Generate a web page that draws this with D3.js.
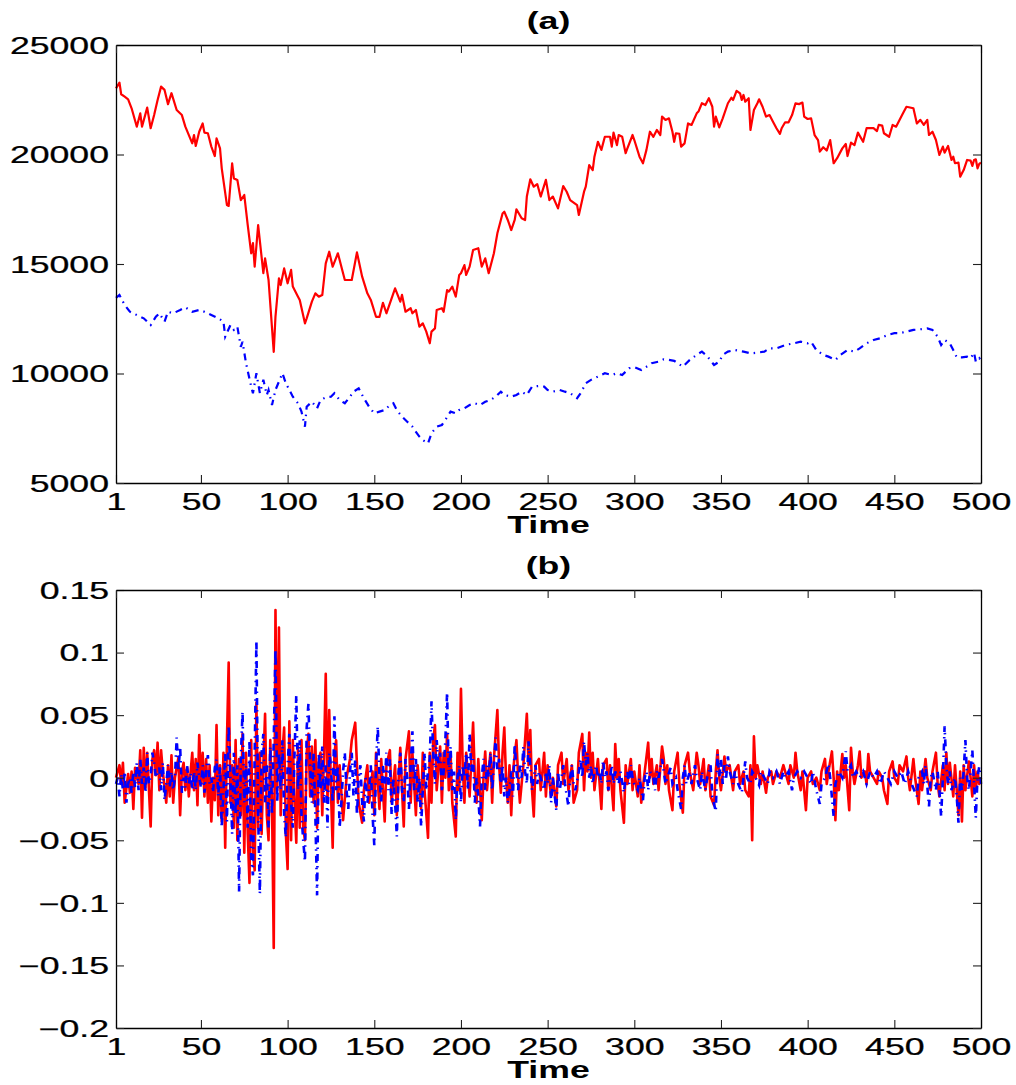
<!DOCTYPE html>
<html>
<head>
<meta charset="utf-8">
<script src="https://cdn.jsdelivr.net/npm/d3@7"></script>
<style>
  body { margin: 0; background: #fff; }
  svg { display: block; }
</style>
</head>
<body>
<div class="my_div"></div>
<script>
// Ticks
var timeTicks = [1, 50, 100, 150, 200, 250, 300, 350, 400, 450, 500];
var priceTicks = [5000, 10000, 15000, 20000, 25000];
var returnTicks = [-0.2, -0.15, -0.1, -0.05, 0, 0.05, 0.1, 0.15];

// Panel (a): prices, [time, value]
var priceRed = [[1,23020],[3,23280],[4,22750],[6,22640],[8,22520],[10,22110],[13,21270],[15,21880],[16,21270],[19,22140],[21,21200],[23,21800],[25,22490],[27,23100],[29,22950],[31,22300],[33,22800],[36,22030],[39,21800],[41,21270],[45,20510],[46,20890],[47,20390],[49,21040],[51,21420],[52,21000],[54,20970],[56,20360],[58,19930],[59,20740],[61,20280],[62,19370],[65,17690],[66,17650],[68,19600],[69,18910],[71,18840],[73,17920],[75,18150],[77,16780],[79,15490],[80,15950],[81,14880],[83,16780],[86,14580],[87,15260],[89,14270],[92,10990],[93,12600],[95,14350],[96,14040],[98,14800],[100,14120],[102,14730],[103,13970],[106,13510],[107,13360],[110,12290],[111,12520],[114,13280],[116,13660],[118,13510],[120,13580],[122,15030],[124,15560],[126,14880],[129,15490],[133,14270],[137,14270],[140,15530],[143,14420],[146,13660],[148,13360],[151,12590],[153,12590],[155,13230],[157,12750],[162,13890],[165,13280],[166,13590],[168,12820],[171,12980],[172,12750],[174,12900],[176,12140],[178,12290],[180,11910],[182,11380],[183,11910],[185,12060],[186,12900],[189,12980],[190,12820],[192,13810],[193,13740],[195,13970],[197,13510],[199,14500],[200,14580],[202,14950],[203,14500],[205,14880],[207,15640],[210,15720],[212,14880],[214,15260],[216,14580],[219,15490],[221,16400],[224,17310],[225,17390],[227,17010],[229,16550],[231,17010],[232,17500],[235,17090],[237,17010],[238,18080],[240,18870],[242,18530],[244,18650],[246,18080],[249,18840],[251,17920],[253,18080],[256,17540],[259,18560],[261,18300],[263,17920],[267,17690],[268,17240],[271,18300],[272,18530],[274,19520],[276,19290],[277,19900],[279,20580],[281,20210],[283,20810],[286,20810],[287,20360],[288,21000],[290,20430],[291,20890],[293,20810],[295,20060],[296,20280],[299,20890],[300,20660],[303,19900],[305,19600],[307,20210],[309,21040],[311,20810],[313,21120],[315,20890],[316,21730],[318,21580],[320,21650],[322,21040],[323,20580],[324,20970],[326,20940],[327,20360],[329,20510],[331,21420],[333,21350],[336,21880],[337,21960],[339,22340],[341,22260],[343,22570],[345,22180],[346,21270],[347,21730],[349,21240],[351,21650],[354,22340],[356,22590],[357,22490],[359,22910],[361,22790],[362,22490],[363,22720],[364,22410],[366,22570],[367,21120],[369,22030],[371,22340],[372,22520],[374,22180],[376,21730],[378,21800],[380,21500],[382,21200],[384,20940],[385,21200],[387,21470],[389,21470],[391,21800],[393,22340],[395,22300],[397,22370],[398,21730],[400,21620],[402,21650],[404,20890],[406,20660],[407,20130],[409,20330],[411,20180],[413,20660],[415,19600],[417,19830],[420,20280],[422,20480],[423,19930],[425,20540],[427,20430],[429,21000],[432,20580],[434,21200],[438,21200],[440,21070],[441,21350],[443,21320],[444,20970],[447,20810],[449,21350],[451,21270],[453,21580],[455,21880],[457,22180],[461,22110],[463,21420],[465,21580],[467,21350],[469,21580],[470,20890],[472,21040],[474,20660],[476,19980],[478,20360],[479,20080],[481,20390],[483,19750],[484,19900],[485,19600],[487,19630],[488,18990],[490,19290],[492,19750],[494,19720],[495,19480],[496,19750],[497,19780],[498,19370],[499,19570],[500,19630]];

var priceBlue = [[1,13450],[3,13585],[6,13130],[9,12820],[13,12670],[17,12520],[21,12210],[24,12590],[26,12750],[29,12370],[31,12820],[34,12750],[38,12900],[41,13020],[45,12820],[49,12900],[52,12820],[56,12670],[60,12520],[63,12370],[64,11680],[67,12210],[69,11990],[71,12140],[73,11220],[74,11450],[76,10470],[79,9400],[80,9100],[82,10010],[84,9100],[86,9710],[88,9020],[89,9250],[91,8560],[93,9250],[97,10010],[99,9550],[101,9250],[103,8940],[106,8640],[108,8260],[110,7570],[111,8480],[114,8710],[117,8410],[119,8790],[122,8910],[125,8940],[127,9100],[130,8790],[133,8640],[136,8940],[138,9170],[141,9320],[144,8870],[147,8480],[150,8180],[153,8260],[156,8330],[159,8560],[161,8640],[163,8330],[166,8030],[169,7800],[172,7570],[174,7340],[176,7120],[178,6960],[181,6810],[183,7270],[186,7570],[189,7650],[191,7880],[194,8260],[197,8180],[199,8330],[202,8410],[205,8560],[208,8640],[211,8560],[214,8710],[217,8790],[220,8940],[223,9170],[225,9020],[229,8940],[232,9020],[235,9170],[238,9020],[241,9400],[245,9430],[248,9400],[250,9250],[253,9170],[257,9250],[260,9170],[263,9100],[267,8870],[269,9100],[272,9550],[275,9710],[279,9860],[283,10010],[287,9930],[290,10010],[293,9930],[297,10240],[300,10290],[304,10160],[307,10310],[310,10470],[314,10540],[317,10650],[320,10620],[323,10580],[328,10310],[332,10620],[336,10850],[339,11000],[342,10800],[346,10390],[349,10540],[351,10850],[354,11000],[358,11070],[363,11000],[367,10920],[371,10950],[375,11000],[378,11150],[382,11150],[387,11300],[392,11380],[396,11450],[400,11380],[402,11450],[405,11070],[409,10850],[412,10770],[416,10620],[419,10850],[423,11070],[427,11000],[430,11150],[434,11380],[438,11530],[442,11610],[446,11760],[450,11840],[453,11840],[457,11910],[461,11990],[465,12020],[469,12060],[472,11990],[475,11680],[477,11300],[479,11530],[482,11380],[484,11070],[486,10740],[489,10740],[492,10770],[494,10700],[496,10950],[497,10540],[499,10700],[500,10600]];

// Panel (b): returns, [time, value]
var returnRed = [[1,0],[3,0.01],[4,-0.005],[5,0.012],[6,-0.02],[8,0.003],[9,-0.012],[10,0.005],[11,-0.025],[12,0.008],[14,-0.005],[15,0.022],[16,-0.032],[17,0.024],[18,-0.008],[19,0.02],[21,-0.039],[22,0.015],[23,0.022],[24,0.002],[25,0.028],[26,-0.01],[27,0.022],[28,0.005],[30,-0.02],[31,0.01],[32,-0.015],[33,0.018],[34,-0.02],[35,0.0],[37,0.016],[38,-0.03],[39,0.005],[40,0.012],[41,-0.01],[42,0.008],[43,-0.015],[44,0.004],[45,0.02],[46,-0.01],[47,0.015],[48,-0.022],[49,0.034],[50,-0.005],[51,0.02],[52,-0.015],[53,0.015],[54,-0.02],[55,0.01],[56,-0.035],[57,0.0],[58,-0.018],[59,0.042],[60,-0.03],[61,0.01],[62,-0.035],[63,0.02],[64,-0.056],[65,0.03],[66,0.092],[67,-0.02],[68,0.01],[69,-0.04],[70,0.03],[71,-0.05],[72,0.015],[73,-0.03],[74,0.035],[75,-0.06],[76,0.02],[77,-0.045],[78,-0.084],[79,0.03],[80,-0.06],[81,-0.074],[82,0.06],[83,-0.04],[84,0.02],[85,-0.045],[86,0.01],[87,0.051],[88,-0.03],[89,-0.05],[90,0.03],[91,-0.02],[92,-0.136],[93,0.134],[94,-0.01],[95,0.12],[96,-0.03],[97,0.02],[98,0.04],[99,-0.045],[100,-0.073],[101,0.045],[102,-0.05],[103,0.03],[104,-0.02],[105,-0.052],[106,0.025],[107,-0.04],[108,0.03],[109,-0.04],[110,-0.05],[111,0.02],[112,0.035],[113,-0.015],[114,0.025],[115,-0.02],[116,0.03],[117,-0.04],[118,0.015],[119,0.02],[120,-0.03],[121,0.02],[122,0.083],[123,-0.02],[124,0.054],[125,-0.01],[126,-0.056],[127,0.02],[128,0.03],[129,-0.02],[130,0.01],[132,-0.034],[134,0.0],[136,0.015],[137,0.03],[139,0.044],[140,0.01],[141,-0.02],[143,-0.036],[144,-0.01],[146,0.01],[147,-0.02],[149,0.005],[150,-0.03],[151,0.02],[153,-0.025],[154,0.015],[156,-0.035],[157,0.01],[159,0.022],[160,-0.02],[162,0.01],[163,-0.03],[165,0.024],[166,-0.01],[167,-0.039],[168,0.015],[170,0.037],[171,-0.02],[172,0.02],[174,-0.03],[175,0.01],[177,-0.025],[178,0.02],[179,-0.01],[181,-0.048],[182,0.02],[183,-0.02],[184,0.03],[185,0.042],[186,-0.01],[188,0.025],[189,-0.02],[190,0.02],[191,0.0],[192,0.035],[193,-0.01],[194,0.02],[195,-0.02],[197,-0.047],[198,0.02],[199,-0.01],[200,0.071],[201,0.01],[202,-0.02],[203,0.02],[205,-0.015],[207,0.044],[208,0.0],[209,-0.02],[210,0.015],[212,-0.034],[213,0.0],[214,0.021],[215,-0.01],[217,0.02],[218,-0.02],[219,0.015],[221,0.054],[222,0.01],[223,-0.012],[224,0.02],[225,0.04],[226,0.0],[227,-0.02],[228,0.01],[229,-0.03],[230,0.005],[232,0.03],[233,0.0],[234,-0.02],[236,0.01],[238,0.051],[239,0.01],[240,0.038],[241,-0.01],[242,-0.031],[243,0.01],[245,0.015],[246,-0.01],[248,0.02],[249,-0.015],[250,0.01],[252,-0.015],[253,0.0],[255,-0.023],[256,0.01],[258,0.02],[259,-0.005],[261,0.015],[262,-0.01],[264,0.01],[265,-0.02],[267,-0.01],[268,0.02],[270,0.035],[271,-0.01],[272,0.02],[273,0.005],[274,0.036],[275,0.0],[276,0.02],[277,-0.01],[279,0.015],[281,-0.025],[282,0.01],[284,0.015],[285,-0.01],[286,0.01],[288,-0.026],[289,0.027],[290,0.0],[291,0.015],[292,-0.01],[294,-0.036],[295,0.01],[296,-0.005],[298,0.015],[299,-0.01],[300,0.005],[302,-0.015],[303,0.01],[304,-0.02],[306,0.005],[308,0.028],[309,0.0],[310,0.015],[311,-0.005],[313,0.01],[314,-0.01],[316,0.025],[317,0.015],[318,-0.005],[319,0.01],[320,-0.01],[322,-0.026],[323,0.005],[325,0.02],[326,-0.005],[328,-0.028],[329,0.01],[331,0.02],[332,0.005],[334,-0.01],[336,0.02],[337,0.01],[338,-0.005],[340,0.015],[341,-0.01],[343,0.01],[344,-0.015],[346,-0.022],[347,0.005],[348,0.022],[349,0.0],[350,-0.01],[352,0.017],[353,0.005],[355,0.01],[357,-0.01],[358,0.005],[360,0.01],[361,-0.005],[363,0.005],[364,-0.01],[366,-0.015],[367,0.01],[368,-0.05],[369,0.033],[370,0.0],[371,0.01],[373,-0.005],[374,0.005],[376,-0.012],[377,0.0],[379,0.005],[380,-0.005],[382,0.005],[384,0.0],[386,0.01],[387,0.005],[389,-0.005],[390,0.01],[392,0.0],[393,0.02],[394,0.005],[396,-0.01],[397,0.005],[399,-0.026],[400,0.0],[402,0.005],[403,-0.005],[405,0.0],[407,-0.01],[408,0.005],[410,0.015],[411,-0.005],[412,0.005],[414,0.021],[415,0.0],[416,-0.034],[417,0.005],[418,-0.01],[420,0.019],[421,0.0],[422,0.01],[424,-0.026],[425,0.024],[426,0.005],[427,-0.005],[429,0.01],[430,0.021],[431,0.0],[433,0.005],[434,-0.005],[435,0.019],[436,0.005],[438,0.0],[440,-0.005],[441,0.005],[443,0.0],[444,-0.01],[446,-0.021],[447,0.005],[449,0.013],[450,0.0],[452,-0.005],[453,0.01],[455,0.005],[457,0.017],[458,0.0],[459,-0.01],[461,0.015],[462,0.0],[464,-0.021],[465,0.005],[466,-0.01],[468,0.015],[469,0.0],[471,-0.01],[472,0.005],[474,0.02],[475,-0.005],[476,-0.015],[478,0.01],[479,-0.01],[480,0.02],[481,-0.005],[482,0.012],[484,-0.015],[485,0.01],[487,-0.03],[488,0.005],[489,-0.035],[490,0.01],[491,-0.01],[493,0.013],[494,0.0],[495,-0.015],[496,0.01],[497,-0.01],[498,0.005],[499,-0.005],[500,0.0]];

var returnBlue = [[1,-0.005],[2,0.0],[3,-0.015],[4,0.003],[5,-0.01],[6,0.005],[7,-0.02],[8,-0.005],[9,0.0],[10,-0.012],[11,0.005],[12,-0.008],[13,0.012],[14,-0.01],[15,0.015],[16,-0.005],[17,0.008],[18,-0.012],[19,0.02],[20,-0.005],[21,0.0],[22,0.02],[23,0.012],[24,0.0],[26,0.008],[27,-0.01],[28,0.012],[29,-0.018],[30,-0.005],[31,0.01],[32,-0.008],[33,0.005],[34,-0.01],[35,0.0],[36,0.032],[37,0.005],[38,0.025],[39,-0.012],[40,0.0],[41,-0.008],[42,0.01],[43,-0.005],[44,0.004],[45,-0.01],[46,0.005],[47,-0.01],[48,0.012],[49,0.0],[50,-0.008],[51,0.01],[52,-0.012],[53,0.005],[54,0.018],[55,-0.005],[56,0.0],[57,-0.012],[58,0.008],[59,0.015],[60,-0.015],[61,0.01],[62,-0.04],[63,-0.01],[64,0.02],[65,-0.035],[66,0.042],[67,0.0],[68,-0.045],[69,0.02],[70,-0.03],[71,0.01],[72,-0.091],[73,0.015],[74,0.053],[75,-0.02],[76,0.01],[77,-0.04],[78,0.03],[79,-0.065],[80,-0.078],[81,0.02],[82,0.1095],[83,-0.03],[84,-0.093],[85,0.02],[86,0.035],[87,-0.02],[88,0.01],[89,-0.04],[90,0.025],[91,-0.03],[92,0.03],[93,0.103],[94,-0.02],[95,0.02],[96,-0.01],[97,0.03],[98,-0.03],[99,-0.048],[100,0.01],[101,0.035],[102,-0.02],[103,-0.04],[104,0.02],[105,0.066],[106,-0.01],[107,0.03],[108,-0.03],[109,-0.05],[110,-0.067],[111,0.04],[112,0.059],[113,0.01],[114,-0.02],[115,0.02],[116,-0.03],[117,-0.094],[118,0.02],[119,-0.01],[120,0.025],[121,-0.02],[122,0.01],[123,-0.04],[124,0.02],[125,0.01],[126,-0.02],[127,0.049],[128,-0.01],[129,0.01],[130,-0.04],[131,-0.02],[132,0.005],[133,0.02],[134,-0.01],[135,-0.025],[136,0.005],[137,0.02],[138,-0.015],[139,0.015],[140,-0.03],[141,0.0],[142,0.01],[143,-0.02],[144,-0.035],[145,0.0],[146,-0.02],[147,-0.01],[148,0.01],[149,-0.03],[150,-0.054],[151,0.01],[152,0.041],[153,0.0],[154,-0.02],[155,0.01],[156,-0.005],[157,0.02],[158,-0.01],[159,0.015],[160,-0.03],[161,0.0],[162,-0.02],[163,-0.047],[164,0.005],[165,0.02],[166,-0.01],[167,-0.02],[168,0.015],[169,0.0],[170,-0.025],[171,0.01],[172,0.037],[173,-0.01],[174,0.015],[175,-0.02],[176,0.0],[177,-0.039],[178,-0.01],[179,0.02],[180,-0.01],[181,0.005],[182,0.015],[183,0.061],[184,0.02],[185,-0.005],[186,0.03],[187,0.01],[188,0.02],[189,-0.01],[190,0.005],[191,0.03],[192,0.068],[193,0.0],[194,0.025],[195,-0.01],[196,0.005],[197,-0.034],[198,0.0],[199,0.01],[200,-0.02],[201,0.01],[202,0.0],[203,0.02],[204,-0.01],[205,0.035],[206,0.005],[207,0.015],[208,-0.02],[209,0.0],[210,-0.015],[211,-0.039],[212,0.0],[213,0.015],[214,-0.01],[215,0.01],[216,0.0],[217,0.02],[218,-0.01],[219,0.01],[220,0.032],[221,0.005],[222,0.015],[223,-0.005],[224,0.01],[225,-0.015],[226,0.0],[227,-0.02],[228,-0.01],[229,0.005],[230,-0.015],[231,0.027],[232,0.005],[233,-0.01],[234,0.01],[235,0.0],[236,0.025],[237,0.005],[238,-0.005],[239,0.029],[240,0.01],[241,-0.01],[242,0.0],[243,0.01],[244,-0.005],[245,0.005],[246,0.0],[248,-0.01],[249,0.005],[250,-0.005],[251,0.01],[252,-0.02],[253,0.0],[255,-0.026],[256,0.005],[257,-0.01],[258,0.0],[259,0.01],[260,-0.005],[262,-0.023],[263,0.0],[264,0.01],[265,-0.005],[266,-0.01],[268,0.005],[269,0.015],[270,0.0],[271,0.029],[272,0.01],[273,0.02],[274,0.0],[275,0.01],[276,-0.005],[277,0.005],[278,0.01],[279,0.0],[280,0.005],[281,-0.005],[282,0.014],[283,0.0],[284,0.005],[285,-0.01],[286,0.0],[287,0.01],[288,-0.005],[289,0.005],[290,0.0],[291,-0.005],[292,0.005],[294,-0.012],[295,0.0],[296,0.005],[297,-0.005],[298,0.01],[299,0.0],[300,-0.005],[302,-0.01],[303,0.0],[305,-0.018],[306,0.0],[307,0.005],[308,-0.01],[309,0.005],[311,0.0],[312,-0.01],[313,0.005],[314,0.0],[316,0.015],[317,0.005],[318,-0.005],[319,0.0],[321,0.008],[322,-0.005],[324,0.0],[325,-0.01],[327,-0.025],[328,0.0],[329,0.01],[330,-0.005],[332,0.005],[333,-0.005],[335,0.01],[336,0.0],[338,-0.01],[339,0.005],[341,-0.01],[342,0.0],[344,0.01],[345,-0.015],[347,-0.027],[348,0.019],[349,0.0],[350,0.015],[351,-0.005],[352,0.01],[353,0.0],[354,0.017],[355,0.005],[357,-0.005],[358,0.005],[360,-0.005],[362,-0.012],[363,0.0],[364,0.013],[365,0.0],[367,-0.005],[368,0.005],[370,0.0],[372,-0.006],[373,0.005],[375,0.0],[377,-0.005],[378,0.005],[380,0.0],[382,0.005],[384,-0.005],[386,0.005],[387,0.0],[389,0.005],[391,-0.01],[392,0.0],[394,0.005],[396,0.0],[398,0.005],[400,0.0],[402,-0.005],[403,0.005],[405,-0.01],[407,-0.021],[408,-0.005],[410,0.0],[412,0.011],[413,0.0],[415,-0.031],[416,-0.005],[418,0.005],[420,0.0],[422,0.021],[423,0.005],[425,0.01],[426,0.0],[428,0.005],[430,0.0],[432,0.005],[434,-0.005],[436,0.005],[438,0.0],[440,0.005],[442,-0.005],[444,0.005],[446,0.0],[448,-0.005],[450,0.005],[452,0.0],[454,0.005],[456,-0.005],[458,0.005],[460,-0.005],[463,-0.015],[464,0.0],[466,0.005],[467,-0.005],[468,0.01],[470,-0.023],[471,0.0],[472,0.005],[474,-0.01],[475,0.005],[476,-0.01],[477,-0.031],[478,0.0],[479,0.041],[480,0.01],[481,-0.005],[482,0.005],[483,-0.01],[485,0.0],[486,-0.015],[487,-0.036],[488,0.0],[489,-0.01],[490,0.005],[491,0.03],[492,0.0],[493,-0.01],[494,0.005],[495,0.022],[496,-0.005],[497,-0.032],[498,0.0],[499,0.009],[500,-0.005]];

// Figure size and panel boxes
var width = 1016,
    height = 1085,
    left = 116,
    right = 981,
    sx = 1.55;   // text in the figure is stretched horizontally

var svg = d3.select(".my_div")
    .append("svg")
    .attr("width", width)
    .attr("height", height)
    .style("font-family", "'Liberation Sans', Arial, sans-serif")

var xScale = d3.scaleLinear()
    .domain([1, 500])
    .range([left, right]);

function minusFmt(d) {
    if (d === 0) return "0";
    var s = String(+Math.abs(d).toFixed(2));
    return (d < 0 ? "\u2212" : "") + s;
}

function panel(top, bottom, yDomain, yTicks, yFmt, title, redData, blueData, lw) {
    var yScale = d3.scaleLinear()
        .domain(yDomain)
        .range([bottom, top]);

    var g = svg.append("g");

    // Lines first, frame on top
    var line = d3.line()
        .x((d) => { return xScale(d[0]); })
        .y((d) => { return yScale(d[1]); })

    g.append("path")
        .datum(redData)
        .attr("d", line)
        .attr("fill", "none")
        .attr("stroke", "#ff0000")
        .attr("stroke-width", lw)
        .attr("stroke-linejoin", "round")

    g.append("path")
        .datum(blueData)
        .attr("d", line)
        .attr("fill", "none")
        .attr("stroke", "#0000ff")
        .attr("stroke-width", lw)
        .attr("stroke-dasharray", "7,5,1.5,5")

    // Axes with inward ticks on all four sides
    var bottomAx = g.append("g")
        .attr("transform", "translate(0," + bottom + ")")
        .call(d3.axisBottom(xScale).tickValues(timeTicks).tickSize(-8).tickSizeOuter(0).tickPadding(10.5).tickFormat(d3.format("d")))
    var leftAx = g.append("g")
        .attr("transform", "translate(" + left + ",0)")
        .call(d3.axisLeft(yScale).tickValues(yTicks).tickSize(-8).tickSizeOuter(0).tickPadding(7 / sx).tickFormat(yFmt))
    var topAx = g.append("g")
        .attr("transform", "translate(0," + top + ")")
        .call(d3.axisTop(xScale).tickValues(timeTicks).tickSize(-8).tickSizeOuter(0).tickFormat(""))
    var rightAx = g.append("g")
        .attr("transform", "translate(" + right + ",0)")
        .call(d3.axisRight(yScale).tickValues(yTicks).tickSize(-8).tickSizeOuter(0).tickFormat(""))

    g.selectAll(".domain").attr("stroke", "#000").attr("stroke-width", 1.3)
    g.selectAll(".tick line").attr("stroke", "#222").attr("stroke-width", 1.1)

    ;[bottomAx, leftAx, topAx, rightAx].forEach((a) => {
        a.attr("font-size", null).attr("font-family", null)
    })

    g.selectAll(".tick text")
        .attr("font-size", 23)
        .attr("fill", "#000")
        .attr("stroke", "#000")
        .attr("stroke-width", 0.25)
        .attr("transform", "scale(" + sx + ",1)")
    leftAx.selectAll(".tick text").attr("dy", "0.36em")

    // Title and x label
    g.append("text")
        .text(title)
        .attr("x", (left + right) / 2 / sx)
        .attr("y", top - 16)
        .attr("transform", "scale(" + sx + ",1)")
        .attr("text-anchor", "middle")
        .attr("font-weight", "bold")
        .attr("font-size", 23)
        .attr("fill", "black")

    g.append("text")
        .text("Time")
        .attr("x", (left + right) / 2 / sx)
        .attr("y", bottom + 50)
        .attr("transform", "scale(" + sx + ",1)")
        .attr("text-anchor", "middle")
        .attr("font-weight", "bold")
        .attr("font-size", 23)
        .attr("fill", "black")
}

panel(45, 483, [5000, 25000], priceTicks, d3.format("d"), "(a)", priceRed, priceBlue, 2.2);
panel(590, 1028, [-0.2, 0.15], returnTicks, minusFmt, "(b)", returnRed, returnBlue, 2.6);
</script>
</body>
</html>
